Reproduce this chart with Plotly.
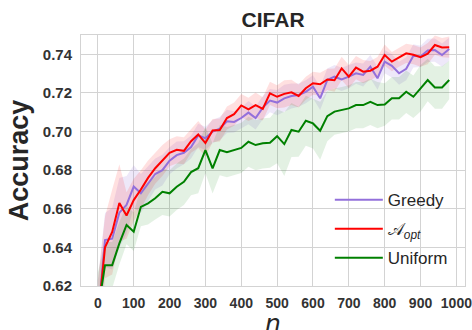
import plotly.graph_objects as go

n_values = list(range(0, 1000, 20))  # 0 .. 980

greedy_mean = [0.603, 0.6438, 0.6445, 0.658, 0.662, 0.6715, 0.668, 0.673, 0.678, 0.680,
               0.6849, 0.6878, 0.689, 0.692, 0.698, 0.6965, 0.700, 0.7015, 0.7053, 0.705,
               0.707, 0.7098, 0.707, 0.7124, 0.716, 0.715, 0.7172, 0.7184, 0.7189, 0.7206,
               0.7232, 0.7172, 0.7267, 0.7284, 0.727, 0.7284, 0.7302, 0.7293, 0.7336, 0.7276,
               0.7362, 0.734, 0.7302, 0.7325, 0.7392, 0.7389, 0.742, 0.7422, 0.7396, 0.7427]
greedy_std = [0.02, 0.014, 0.016, 0.018, 0.015, 0.011, 0.01, 0.009, 0.008, 0.008,
              0.007, 0.007, 0.006, 0.006, 0.006, 0.006, 0.006, 0.006, 0.006, 0.0055,
              0.0055, 0.006, 0.006, 0.006, 0.006, 0.0065, 0.007, 0.0065, 0.006, 0.006,
              0.006, 0.006, 0.006, 0.006, 0.006, 0.006, 0.0055, 0.006, 0.006, 0.006,
              0.006, 0.006, 0.006, 0.006, 0.006, 0.0055, 0.006, 0.006, 0.006, 0.006]

aopt_mean = [0.603, 0.640, 0.648, 0.663, 0.6565, 0.6645, 0.670, 0.676, 0.681, 0.685,
             0.689, 0.6905, 0.690, 0.695, 0.6985, 0.694, 0.7005, 0.7008, 0.707, 0.709,
             0.7135, 0.7115, 0.7137, 0.7117, 0.7198, 0.718, 0.7195, 0.7203, 0.7184, 0.7224,
             0.725, 0.7245, 0.727, 0.7266, 0.7327, 0.7284, 0.7331, 0.731, 0.7315, 0.7336,
             0.7396, 0.7362, 0.7385, 0.7405, 0.7398, 0.7385, 0.7403, 0.7448, 0.7435, 0.7437]
aopt_std = [0.02, 0.016, 0.022, 0.02, 0.012, 0.011, 0.01, 0.009, 0.008, 0.008,
            0.007, 0.007, 0.007, 0.006, 0.007, 0.007, 0.006, 0.006, 0.006, 0.006,
            0.006, 0.006, 0.0065, 0.006, 0.006, 0.006, 0.007, 0.0065, 0.006, 0.006,
            0.006, 0.006, 0.0055, 0.006, 0.006, 0.006, 0.006, 0.006, 0.005, 0.005,
            0.0055, 0.005, 0.005, 0.005, 0.005, 0.005, 0.0055, 0.005, 0.005, 0.0055]

uniform_mean = [0.607, 0.6308, 0.6308, 0.6421, 0.6516, 0.6481, 0.661, 0.6628, 0.6654, 0.6688,
                0.668, 0.6714, 0.674, 0.679, 0.681, 0.6904, 0.6809, 0.6904, 0.6893, 0.6904,
                0.6915, 0.6947, 0.693, 0.6939, 0.6942, 0.6976, 0.6935, 0.7008, 0.6999, 0.7056,
                0.7042, 0.7004, 0.708, 0.7103, 0.7111, 0.712, 0.7137, 0.7137, 0.7154, 0.7137,
                0.714, 0.7172, 0.7172, 0.7206, 0.718, 0.7224, 0.7267, 0.7228, 0.7228, 0.7267]
uniform_std = [0.02, 0.012, 0.012, 0.011, 0.01, 0.01, 0.01, 0.011, 0.011, 0.012,
               0.012, 0.012, 0.012, 0.012, 0.013, 0.012, 0.013, 0.013, 0.013, 0.013,
               0.013, 0.013, 0.013, 0.013, 0.013, 0.014, 0.0165, 0.014, 0.013, 0.013,
               0.013, 0.015, 0.013, 0.012, 0.012, 0.012, 0.012, 0.012, 0.012, 0.012,
               0.011, 0.011, 0.011, 0.011, 0.011, 0.012, 0.011, 0.011, 0.011, 0.01]

x_ticks = [0, 100, 200, 300, 400, 500, 600, 700, 800, 900, 1000]
y_ticks = [0.62, 0.64, 0.66, 0.68, 0.70, 0.72, 0.74]

series = [
    ("Greedy", greedy_mean, greedy_std, "#9370DB", "rgba(147,112,219,0.16)"),
    ("𝒜<sub><i>opt</i></sub>", aopt_mean, aopt_std, "#FF0000", "rgba(255,0,0,0.12)"),
    ("Uniform", uniform_mean, uniform_std, "#008000", "rgba(0,128,0,0.11)"),
]

fig = go.Figure()
for i, (name, mean, std, col, fillcol) in enumerate(series):
    upper = [m + s for m, s in zip(mean, std)]
    lower = [m - s for m, s in zip(mean, std)]
    fig.add_trace(go.Scatter(x=n_values, y=upper, mode="lines", line=dict(width=0),
                             showlegend=False, hoverinfo="skip"))
    fig.add_trace(go.Scatter(x=n_values, y=lower, mode="lines", line=dict(width=0),
                             fill="tonexty", fillcolor=fillcol, showlegend=False,
                             hoverinfo="skip"))
for i, (name, mean, std, col, fillcol) in enumerate(series):
    fig.add_trace(go.Scatter(x=n_values, y=mean, mode="lines", name=name,
                             line=dict(color=col, width=2), legendgroup=str(i)))

def axis_style(size):
    return dict(showgrid=True, gridcolor="#d3d3d3", gridwidth=1,
                showline=True, linecolor="#d3d3d3", linewidth=1, mirror=True,
                zeroline=False, ticks="", automargin=False, ticklabeloverflow="allow",
                tickfont=dict(family="Liberation Sans", size=size, color="#333333",
                              weight="bold"))

fig.update_layout(
    width=472, height=330,
    margin=dict(l=81, r=7, t=35, b=44),
    plot_bgcolor="white", paper_bgcolor="white",
    title=dict(text="<b>CIFAR</b>", x=0.5785, xanchor="center", y=0.918, yanchor="bottom",
               font=dict(family="Liberation Sans", size=21, color="#262626")),
    xaxis=dict(range=[-47, 1024], tickvals=x_ticks, ticklabelstandoff=4,
               **axis_style(14)),
    yaxis=dict(range=[0.62, 0.75], tickvals=y_ticks, tickformat=".2f", ticklabelstandoff=5,
               title=dict(text="<b>Accuracy</b>", font=dict(family="Liberation Sans", size=27,
                                                            color="#262626"), standoff=6),
               **axis_style(15)),
    legend=dict(x=0.648, y=0.414, xanchor="left", yanchor="top", bgcolor="rgba(0,0,0,0)",
                font=dict(family="Liberation Sans", size=17, color="#262626"),
                tracegroupgap=4, itemwidth=48),
    showlegend=True,
    annotations=[dict(text="<i>n</i>", xref="paper", yref="paper", x=0.5, y=-0.082,
                      xanchor="center", yanchor="top", showarrow=False,
                      font=dict(family="DejaVu Sans", size=25, color="#262626"))],
)

fig.write_html("out.html")
